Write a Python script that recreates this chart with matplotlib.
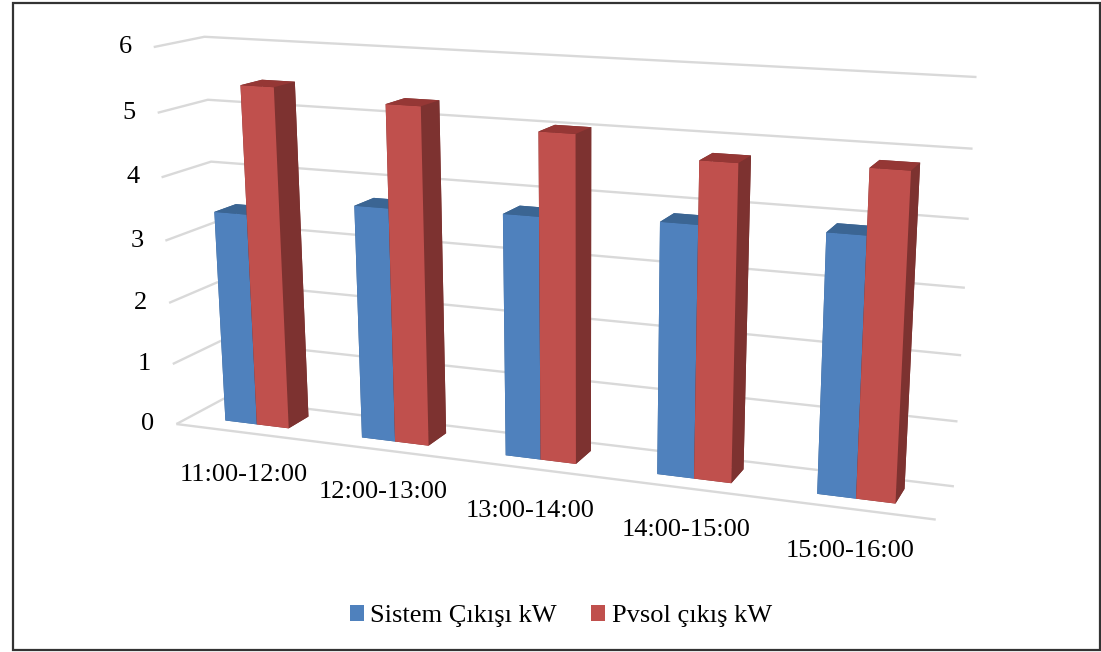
import numpy as np
import matplotlib
matplotlib.use("Agg")
import matplotlib.pyplot as plt
from matplotlib.axes import Axes
from matplotlib.patches import Patch, Rectangle
from mpl_toolkits.mplot3d import proj3d
from mpl_toolkits.mplot3d.art3d import Line3DCollection

plt.rcParams['font.family'] = ['Liberation Serif', 'DejaVu Serif']

categories = ["11:00-12:00", "12:00-13:00", "13:00-14:00", "14:00-15:00", "15:00-16:00"]
sistem = [3.42, 3.70, 3.76, 3.83, 3.87]
pvsol = [5.43, 5.28, 5.02, 4.76, 4.82]
series_names = ["Sistem Çıkışı kW", "Pvsol çıkış kW"]
value_ticks = [0, 1, 2, 3, 4, 5, 6]

BLUE = ['#3A6290', '#3B6593', '#4F81BD', '#3B6593', '#3A6290', '#3A6290']
RED = ['#7D3230', '#953735', '#C0504D', '#7D3230', '#7D3230', '#7D3230']
GRID = '#D9D9D9'

# camera: (category, depth, value) -> figure pixels, solved from the chart frame corners
frame3d = np.array([[0, 1, 6], [5, 1, 6], [5, 1, 0], [0, 1, 0], [0, 0, 0], [5, 0, 0], [0, 0, 6],
                    [0, 1, 5], [5, 1, 5], [0, 1, 4], [5, 1, 4], [5, 1, 1], [0, 0, 1],
                    [0, 0, 5], [0, 0, 4]], float)
framepx = np.array([[205, 36], [977, 77], [953, 486], [225, 403], [176, 421], [937, 521], [154, 49],
                    [207, 99], [973, 149], [211, 160], [968, 219], [957, 420], [172, 363],
                    [157, 114], [162, 177]], float)
rows = []
for (X, Y, Z), (u, v) in zip(frame3d, framepx):
    rows.append([X, Y, Z, 1, 0, 0, 0, 0, -u * X, -u * Y, -u * Z, -u])
    rows.append([0, 0, 0, 0, X, Y, Z, 1, -v * X, -v * Y, -v * Z, -v])
P = np.linalg.svd(np.array(rows))[2][-1].reshape(3, 4)
P = P / P[2, 3]
M = np.vstack([P[0], P[1], P[2] - np.array([0, 0, 0, 0.5]), P[2]])

fig = plt.figure(figsize=(11.01, 6.52), dpi=100, facecolor='white')
ax = fig.add_axes([0, 0, 1, 1], projection='3d')
ax.apply_aspect = lambda position=None: None
ax.get_proj = lambda: M
ax.computed_zorder = False
ax.set_axis_off()
ax.viewLim.intervalx = (0, 1101)
ax.viewLim.intervaly = (652, 0)


def project(x, y, z):
    u, v, _ = proj3d.proj_transform(x, y, z, M)
    return float(u), float(v)


n = len(categories)
segments = []
for v in value_ticks:
    segments.append([(0, 0, v), (0, 1, v), (n, 1, v)])
segments.append([(0, 0, 0), (n, 0, 0)])
grid = Line3DCollection(segments, colors=GRID, linewidths=1.7, zorder=1)
ax.add_collection3d(grid, autolim=False)

bar_start, bar_w, depth_start, depth_w = 0.26, 0.235, 0.3, 0.45
for i in range(n):
    ax.bar3d(i + bar_start, depth_start, 0, bar_w, depth_w, sistem[i], color=BLUE,
             shade=False, linewidth=0, edgecolor='none', zorder=2 + 2 * i)
    ax.bar3d(i + bar_start + bar_w, depth_start, 0, bar_w, depth_w, pvsol[i], color=RED,
             shade=False, linewidth=0, edgecolor='none', zorder=3 + 2 * i)

for v in value_ticks:
    u, w = project(0, 0, v)
    Axes.text(ax, u - 22, w, str(v), ha='right', va='center', fontsize=19, color='black', zorder=30)
for i, c in enumerate(categories):
    u, w = project(i + 0.5, 0, 0)
    Axes.text(ax, u, w + 42, c, ha='center', va='center', fontsize=19, color='black', zorder=30)

handles = [Patch(color=BLUE[2], lw=0), Patch(color=RED[2], lw=0)]
fig.legend(handles, series_names, loc='center', bbox_to_anchor=(0.5095, 0.055), ncol=2, frameon=False,
           fontsize=19, handlelength=0.53, handleheight=0.53, handletextpad=0.25,
           columnspacing=1.3, borderpad=0, borderaxespad=0)

fig.add_artist(Rectangle((12.5 / 1101, 1 - 650 / 652), (1100 - 12.5) / 1101, (650 - 2.5) / 652,
                         transform=fig.transFigure, fill=False, edgecolor='#333333', lw=1.6))

fig.savefig('out.png', dpi=100)
